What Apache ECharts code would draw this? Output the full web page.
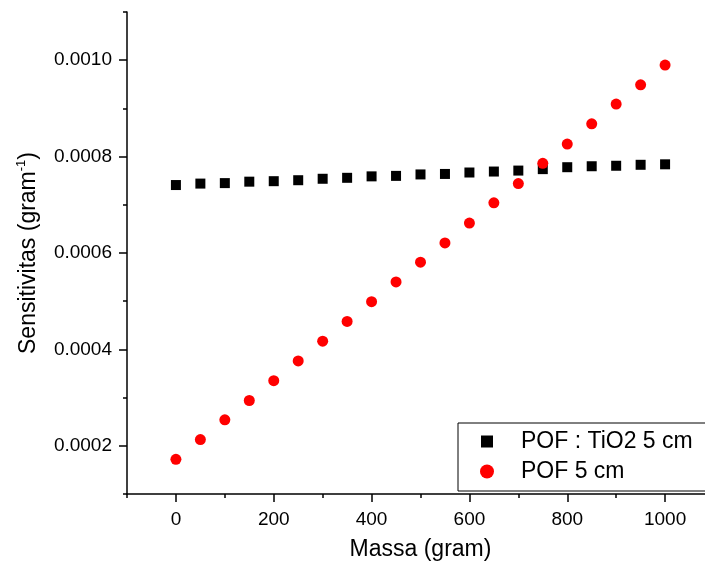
<!DOCTYPE html>
<html>
<head>
<meta charset="utf-8">
<script src="https://cdn.jsdelivr.net/npm/echarts@6/dist/echarts.min.js"></script>
<style>
  html, body { margin: 0; padding: 0; background: #ffffff; }
  #chart { width: 705px; height: 566px; }
</style>
</head>
<body>
<div id="chart"></div>
<script>
// Mass applied to the fibre (gram)
const massa = [0, 50, 100, 150, 200, 250, 300, 350, 400, 450, 500,
               550, 600, 650, 700, 750, 800, 850, 900, 950, 1000];

// Sensitivity (gram^-1) of the TiO2-coated fibre, 5 cm
const sensTiO2 = [0.000741, 0.000744, 0.000745, 0.000748, 0.000749, 0.000751, 0.000754,
                  0.000756, 0.000759, 0.000760, 0.000763, 0.000764, 0.000767, 0.000769,
                  0.000771, 0.000774, 0.000778, 0.000780, 0.000781, 0.000783, 0.000784];

// Sensitivity (gram^-1) of the bare fibre, 5 cm
const sensPOF = [0.000172, 0.000213, 0.000254, 0.000294, 0.000335, 0.000376, 0.000417,
                 0.000458, 0.000499, 0.000540, 0.000581, 0.000621, 0.000662, 0.000704,
                 0.000744, 0.000786, 0.000826, 0.000868, 0.000909, 0.000949, 0.000990];

const seriesNames = ['POF : TiO2 5 cm', 'POF 5 cm'];

// Tick positions
const xMajorTicks = [0, 200, 400, 600, 800, 1000];
const xMinorTicks = [-100, 100, 300, 500, 700, 900, 1100];
const yMajorTicks = [0.0002, 0.0004, 0.0006, 0.0008, 0.0010];
const yMinorTicks = [0.0001, 0.0003, 0.0005, 0.0007, 0.0009, 0.0011];

const FONT = 'Liberation Sans, Arial, sans-serif';
const AXIS_LINE = { color: '#000', width: 1.5 };

const chart = echarts.init(document.getElementById('chart'), null, { renderer: 'canvas' });

const xBase = { type: 'value', min: -100, max: 1100, splitLine: { show: false } };
const yBase = { type: 'value', min: 0.0001, max: 0.0011, splitLine: { show: false } };

chart.setOption({
  animation: false,
  backgroundColor: '#ffffff',
  grid: { left: 127, top: 12, right: -9, bottom: 72, outerBoundsMode: 'none', containLabel: false },
  xAxis: [
    Object.assign({}, xBase, {
      name: 'Massa (gram)',
      nameLocation: 'middle',
      nameGap: 44,
      nameTextStyle: { fontFamily: FONT, fontSize: 23, color: '#000' },
      axisLine: { show: true, onZero: false, lineStyle: AXIS_LINE },
      axisTick: { show: true, inside: false, length: 8, customValues: xMajorTicks, lineStyle: AXIS_LINE },
      axisLabel: {
        show: true, customValues: xMajorTicks, margin: 16,
        fontFamily: FONT, fontSize: 19, color: '#000',
        formatter: v => String(v)
      }
    }),
    Object.assign({}, xBase, {
      position: 'bottom',
      axisLine: { show: false, onZero: false },
      axisTick: { show: true, inside: false, length: 4, customValues: xMinorTicks, lineStyle: AXIS_LINE },
      axisLabel: { show: false }
    })
  ],
  yAxis: [
    Object.assign({}, yBase, {
      name: 'Sensitivitas (gram{sup|-1})',
      nameLocation: 'middle',
      nameGap: 84,
      nameRotate: 90,
      nameTextStyle: {
        fontFamily: FONT, fontSize: 23, color: '#000', lineHeight: 28,
        rich: { sup: { fontFamily: FONT, fontSize: 13, color: '#000', verticalAlign: 'top', lineHeight: 14 } }
      },
      axisLine: { show: true, onZero: false, lineStyle: AXIS_LINE },
      axisTick: { show: true, inside: false, length: 8, customValues: yMajorTicks, lineStyle: AXIS_LINE },
      axisLabel: {
        show: true, customValues: yMajorTicks, margin: 15,
        fontFamily: FONT, fontSize: 19, color: '#000',
        formatter: v => v.toFixed(4)
      }
    }),
    Object.assign({}, yBase, {
      position: 'left',
      axisLine: { show: false, onZero: false },
      axisTick: { show: true, inside: false, length: 4, customValues: yMinorTicks, lineStyle: AXIS_LINE },
      axisLabel: { show: false }
    })
  ],
  legend: {
    orient: 'vertical',
    left: 458,
    top: 423,
    padding: [7, 24, 8, 22],
    itemGap: 7,
    itemWidth: 36,
    itemHeight: 14,
    borderColor: '#000',
    borderWidth: 1,
    backgroundColor: '#fff',
    textStyle: { fontFamily: FONT, fontSize: 23, color: '#000', lineHeight: 22 },
    data: [
      { name: seriesNames[0], icon: 'path://M0,0M36,14M1,1h12v12h-12z' },
      { name: seriesNames[1], icon: 'path://M0,0M36,14M0,7a7,7 0 1,1 14,0a7,7 0 1,1 -14,0z' }
    ]
  },
  series: [
    {
      name: seriesNames[0],
      type: 'scatter',
      xAxisIndex: 0, yAxisIndex: 0,
      symbol: 'rect',
      symbolSize: 10,
      itemStyle: { color: '#000000', opacity: 1 },
      data: massa.map((m, i) => [m, sensTiO2[i]]),
      z: 2
    },
    {
      name: seriesNames[1],
      type: 'scatter',
      xAxisIndex: 0, yAxisIndex: 0,
      symbol: 'circle',
      symbolSize: 11,
      itemStyle: { color: '#ff0000', opacity: 1 },
      data: massa.map((m, i) => [m, sensPOF[i]]),
      z: 3
    }
  ]
});
</script>
</body>
</html>
